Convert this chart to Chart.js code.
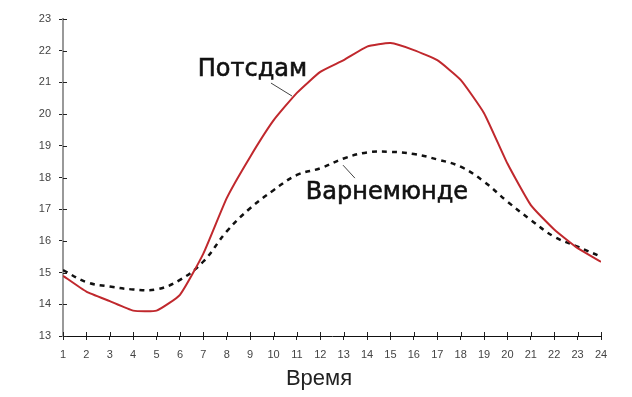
<!DOCTYPE html>
<html>
<head>
<meta charset="utf-8">
<script src="https://cdn.jsdelivr.net/npm/chart.js@4"></script>
<style>
  html, body { margin: 0; padding: 0; background: #fff; }
  #wrap { width: 632px; height: 397px; }
</style>
</head>
<body>
<div id="wrap"><canvas id="chart"></canvas></div>
<script>
// Hourly temperature, two stations
const hours = [1, 2, 3, 4, 5, 6, 7, 8, 9, 10, 11, 12, 13, 14, 15, 16, 17, 18, 19, 20, 21, 22, 23, 24];
const potsdam = [14.9, 14.4, 14.1, 13.8, 13.8, 14.3, 15.6, 17.35, 18.65, 19.8, 20.67, 21.33,
                 21.7, 22.13, 22.24, 22.02, 21.7, 21.08, 20.03, 18.44, 17.13, 16.36, 15.77, 15.34];
const warnemuende = [15.08, 14.7, 14.56, 14.47, 14.47, 14.77, 15.35, 16.3, 17.03, 17.6, 18.08, 18.29,
                     18.6, 18.79, 18.81, 18.74, 18.57, 18.34, 17.87, 17.24, 16.66, 16.13, 15.82, 15.5];
const yTicks = [13, 14, 15, 16, 17, 18, 19, 20, 21, 22, 23];
const xTitle = 'Время';

// Callout labels: text, baseline anchor (data coords), leader line from/to (data coords)
const labels = [
    { text: 'Потсдам', x: 9.10, y: 21.2, from: [9.89, 20.98], to: [10.79, 20.57] },
    { text: 'Варнемюнде', x: 14.85, y: 17.32, from: [12.97, 18.39], to: [13.48, 17.98] }
];

const calloutPlugin = {
    id: 'callouts',
    afterDatasetsDraw(chart) {
        const ctx = chart.ctx;
        const xs = chart.scales.x;
        const ys = chart.scales.y;
        const area = chart.chartArea;
        ctx.save();

        // inner half of tick marks (crossing the axes)
        ctx.strokeStyle = '#222';
        ctx.lineWidth = 1;
        hours.forEach(h => {
            const px = Math.round(xs.getPixelForValue(h)) + 0.5;
            ctx.beginPath();
            ctx.moveTo(px, area.bottom);
            ctx.lineTo(px, area.bottom - 4);
            ctx.stroke();
        });
        yTicks.forEach(t => {
            const py = Math.round(ys.getPixelForValue(t)) + 0.5;
            ctx.beginPath();
            ctx.moveTo(area.left, py);
            ctx.lineTo(area.left + 4, py);
            ctx.stroke();
        });

        // callouts
        labels.forEach(l => {
            ctx.strokeStyle = '#444';
            ctx.lineWidth = 1;
            ctx.beginPath();
            ctx.moveTo(xs.getPixelForValue(l.from[0]), ys.getPixelForValue(l.from[1]));
            ctx.lineTo(xs.getPixelForValue(l.to[0]), ys.getPixelForValue(l.to[1]));
            ctx.stroke();

            const tx = xs.getPixelForValue(l.x);
            const ty = ys.getPixelForValue(l.y);
            ctx.fillStyle = '#111';
            ctx.strokeStyle = '#111';
            ctx.lineWidth = 0.6;
            ctx.font = '24px "DejaVu Sans"';
            ctx.textAlign = 'center';
            ctx.textBaseline = 'alphabetic';
            ctx.fillText(l.text, tx, ty);
            ctx.strokeText(l.text, tx, ty);
        });

        // axis title
        ctx.fillStyle = '#222';
        ctx.font = '22px "Liberation Sans"';
        ctx.textAlign = 'center';
        ctx.textBaseline = 'alphabetic';
        ctx.fillText(xTitle, 319, 385);
        ctx.restore();
    }
};

new Chart(document.getElementById('chart'), {
    type: 'line',
    data: {
        labels: hours,
        datasets: [
            {
                label: 'Потсдам',
                data: hours.map((h, i) => ({ x: h, y: potsdam[i] })),
                borderColor: '#c0282d',
                borderWidth: 2,
                pointRadius: 0,
                tension: 0.15,
                fill: false
            },
            {
                label: 'Варнемюнде',
                data: hours.map((h, i) => ({ x: h, y: warnemuende[i] })),
                borderColor: '#111',
                borderWidth: 2.5,
                borderDash: [5, 5],
                pointRadius: 0,
                tension: 0.4,
                fill: false
            }
        ]
    },
    options: {
        responsive: true,
        maintainAspectRatio: false,
        animation: false,
        layout: {
            padding: { left: 0, right: 31, top: 19, bottom: 0 }
        },
        scales: {
            x: {
                type: 'linear',
                min: 1,
                max: 24,
                afterBuildTicks: function(scale) {
                    scale.ticks = hours.map(h => ({ value: h }));
                },
                afterFit: function(scale) {
                    scale.height = 61;
                },
                ticks: {
                    autoSkip: false,
                    maxRotation: 0,
                    padding: 8,
                    color: '#444',
                    font: { family: '"Liberation Sans"', size: 11 }
                },
                grid: {
                    drawOnChartArea: false,
                    tickLength: 4,
                    color: '#222'
                },
                border: { color: '#111', width: 1 }
            },
            y: {
                min: 13,
                max: 23,
                afterBuildTicks: function(scale) {
                    scale.ticks = yTicks.map(t => ({ value: t }));
                },
                afterFit: function(scale) {
                    scale.width = 63;
                },
                ticks: {
                    padding: 8,
                    color: '#444',
                    font: { family: '"Liberation Sans"', size: 11 }
                },
                grid: {
                    drawOnChartArea: false,
                    tickLength: 4,
                    color: '#222'
                },
                border: { color: '#999', width: 2 }
            }
        },
        plugins: {
            legend: { display: false },
            tooltip: { enabled: false }
        }
    },
    plugins: [calloutPlugin]
});
</script>
</body>
</html>
